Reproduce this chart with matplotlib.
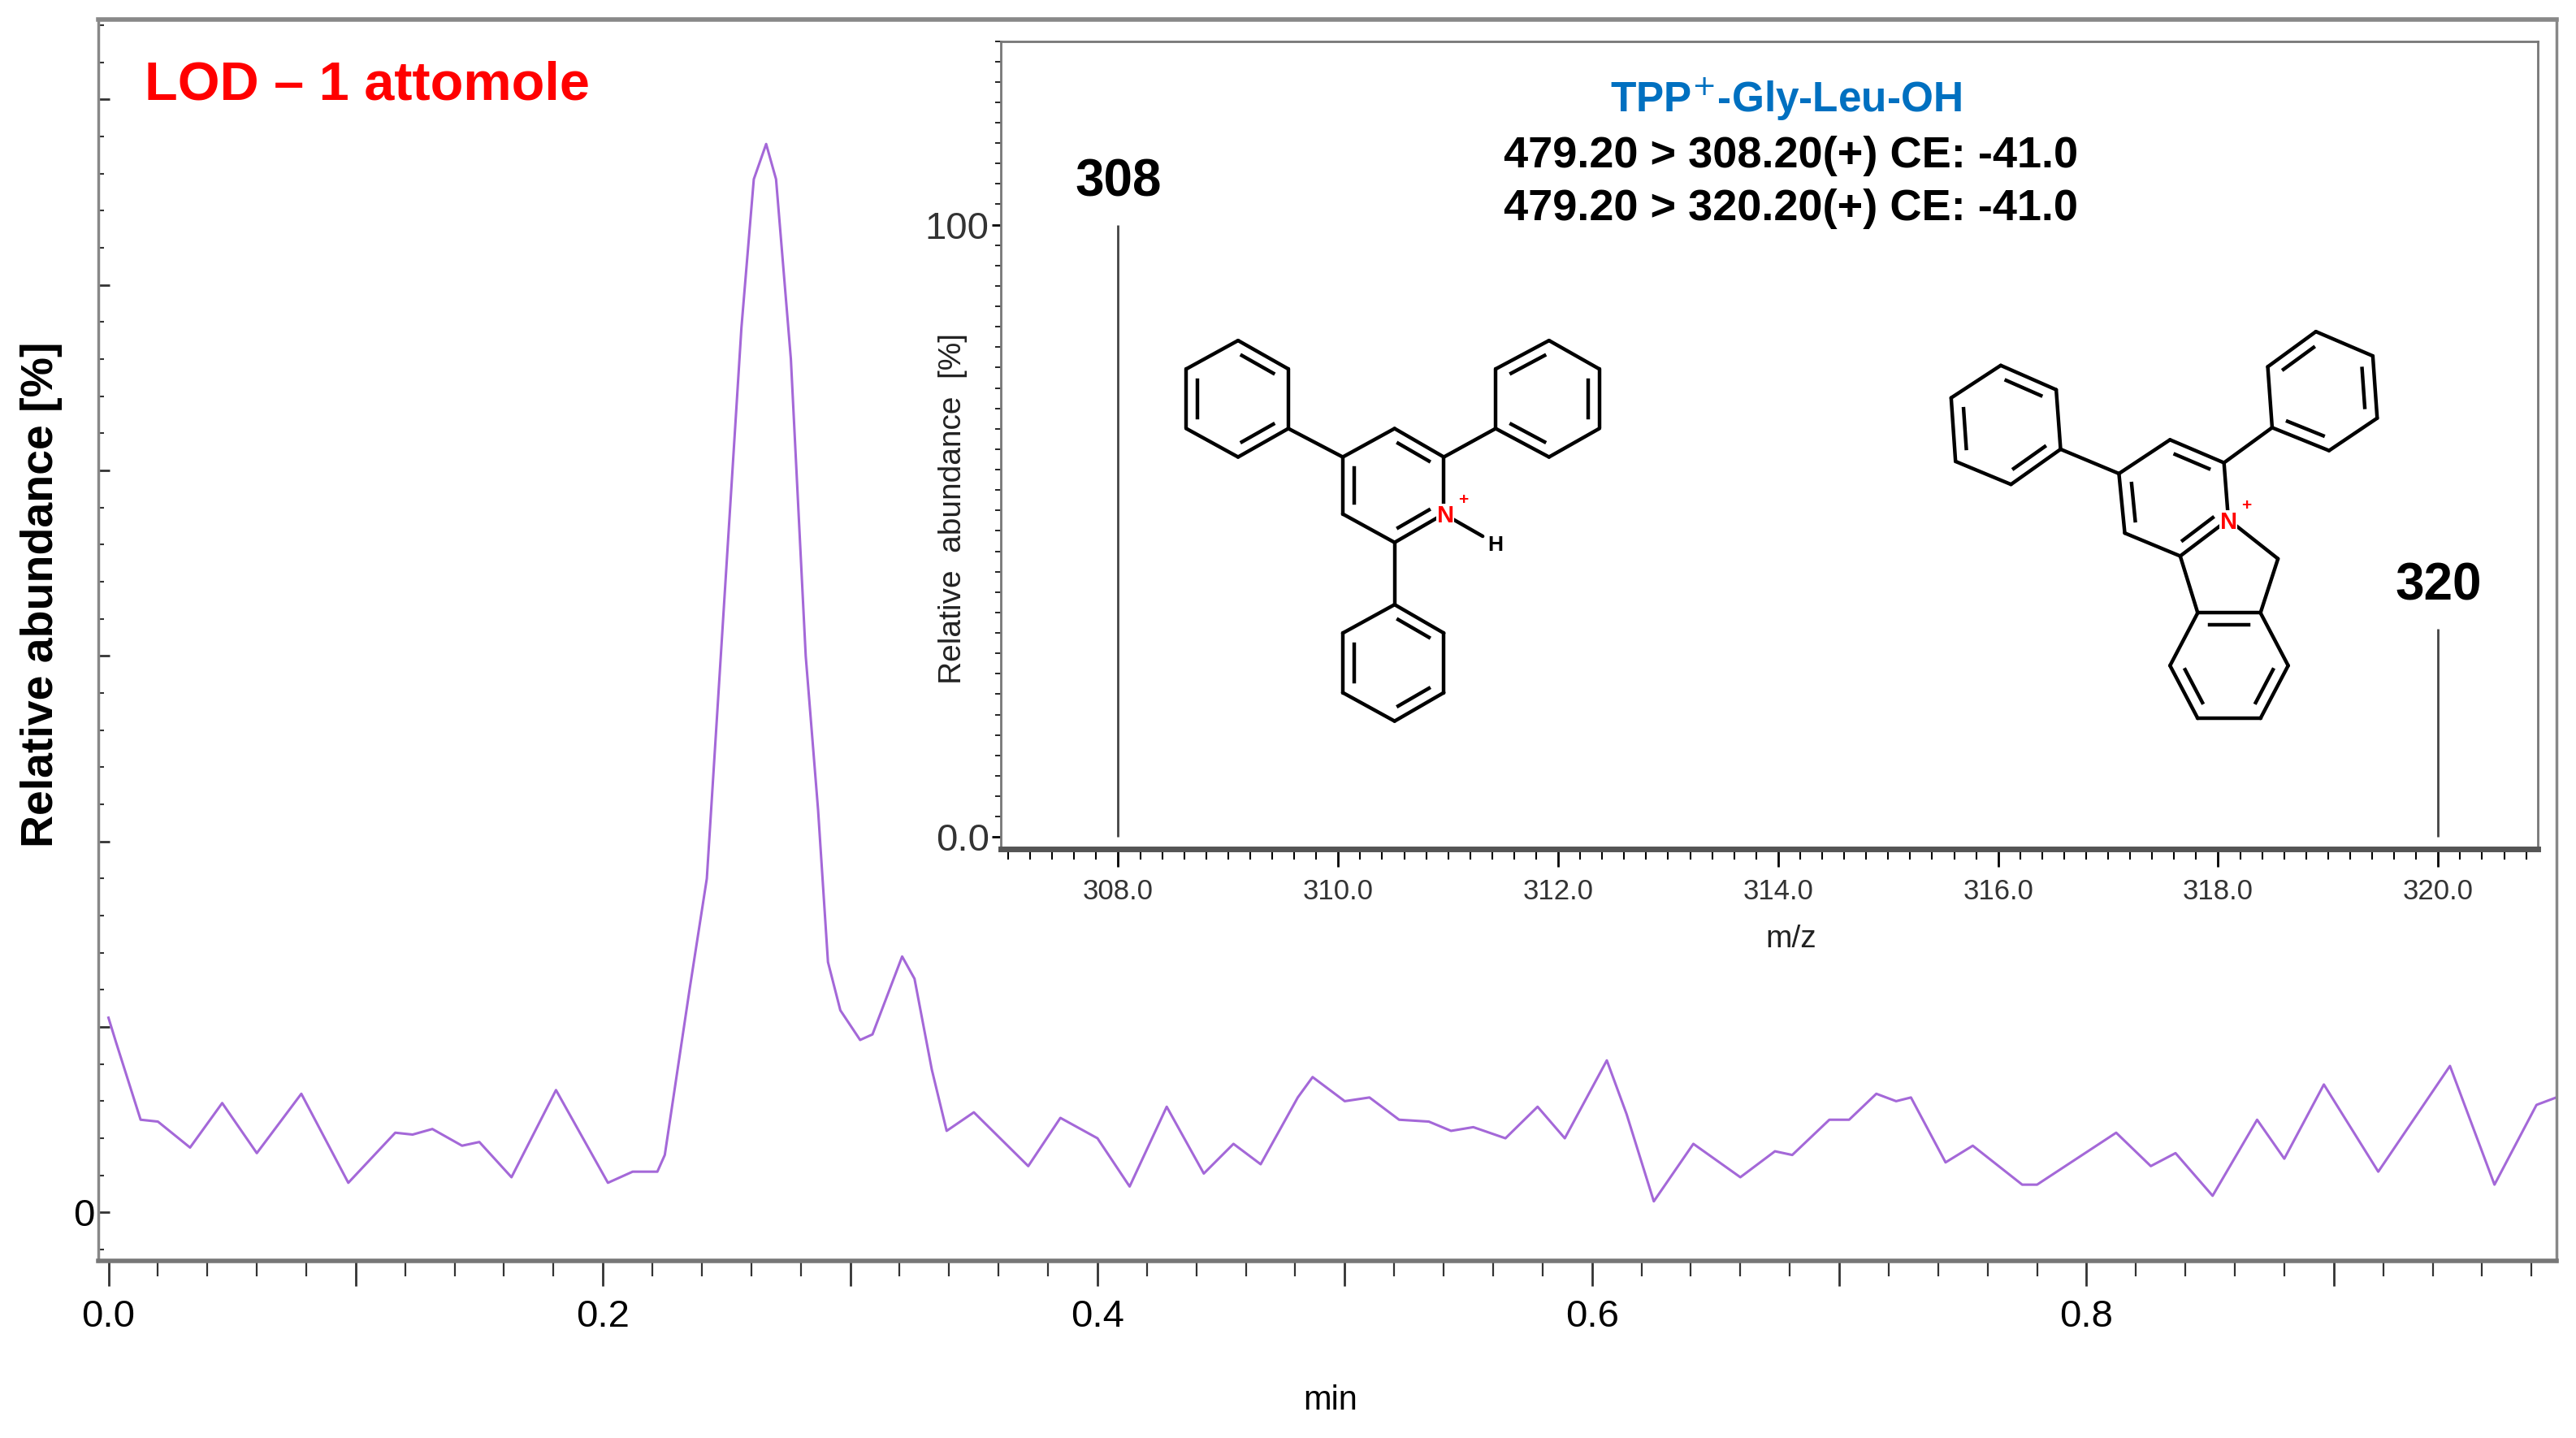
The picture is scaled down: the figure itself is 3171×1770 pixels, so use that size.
import numpy as np
import matplotlib
matplotlib.use("Agg")
import matplotlib.pyplot as plt
from matplotlib.lines import Line2D
from matplotlib.ticker import MultipleLocator, FuncFormatter

plt.rcParams['font.family'] = ['Liberation Sans', 'DejaVu Sans']

# ---- chromatogram data (time in min, relative abundance in arbitrary tick units) ----
time_min = [0.000, 0.003, 0.013, 0.020, 0.033, 0.046, 0.060, 0.078, 0.097, 0.116, 0.123,
            0.131, 0.143, 0.150, 0.163, 0.181, 0.202, 0.212, 0.222, 0.225, 0.235, 0.242,
            0.256, 0.261, 0.266, 0.270, 0.276, 0.282, 0.287, 0.291, 0.296, 0.304, 0.309,
            0.321, 0.326, 0.333, 0.339, 0.350, 0.372, 0.385, 0.400, 0.413, 0.428, 0.443,
            0.455, 0.466, 0.481, 0.487, 0.500, 0.510, 0.522, 0.534, 0.543, 0.552, 0.565,
            0.578, 0.589, 0.606, 0.614, 0.625, 0.641, 0.660, 0.674, 0.681, 0.696, 0.704,
            0.715, 0.723, 0.729, 0.743, 0.754, 0.774, 0.780, 0.812, 0.826, 0.836, 0.851,
            0.869, 0.880, 0.896, 0.918, 0.947, 0.965, 0.982, 0.990]
abundance = [1.05, 0.92, 0.50, 0.49, 0.35, 0.59, 0.32, 0.64, 0.16, 0.43, 0.42,
             0.45, 0.36, 0.38, 0.19, 0.66, 0.16, 0.22, 0.22, 0.31, 1.20, 1.80,
             4.77, 5.57, 5.76, 5.57, 4.60, 3.00, 2.17, 1.35, 1.09, 0.93, 0.96,
             1.38, 1.26, 0.77, 0.44, 0.54, 0.25, 0.51, 0.40, 0.14, 0.57, 0.21,
             0.37, 0.26, 0.62, 0.73, 0.60, 0.62, 0.50, 0.49, 0.44, 0.46, 0.40,
             0.57, 0.40, 0.82, 0.53, 0.06, 0.37, 0.19, 0.33, 0.31, 0.50, 0.50,
             0.64, 0.60, 0.62, 0.27, 0.36, 0.15, 0.15, 0.43, 0.25, 0.32, 0.09,
             0.50, 0.29, 0.69, 0.22, 0.79, 0.15, 0.58, 0.62]
x_tick_labels = ['0.0', '0.2', '0.4', '0.6', '0.8']

# ---- inset spectrum data ----
mz_values = [308.0, 320.0]
mz_intensity = [100.0, 34.0]
mz_labels = ['308', '320']
inset_xticks = [308.0, 310.0, 312.0, 314.0, 316.0, 318.0, 320.0]

W, H = 1568.0, 876.0
fig = plt.figure(figsize=(31.71, 17.70), dpi=100)

def fr(x, y):
    return x / W, 1 - y / H

# ---------- main axes ----------
l, b = fr(60, 768); r, t = fr(1556, 12)
ax = fig.add_axes([l, b, r - l, t - b])
ax.plot(time_min, abundance, color='#a468d8', lw=2.2)
ax.set_xlim(-0.004, 0.99)
ax.set_ylim(-0.26, 6.43)
ax.xaxis.set_major_locator(MultipleLocator(0.1))
ax.xaxis.set_minor_locator(MultipleLocator(0.02))
def xfmt(v, p):
    k = int(round(v * 10))
    return x_tick_labels[k // 2] if k % 2 == 0 and 0 <= k // 2 < len(x_tick_labels) else ''
ax.xaxis.set_major_formatter(FuncFormatter(xfmt))
ax.yaxis.set_major_locator(MultipleLocator(1))
ax.yaxis.set_minor_locator(MultipleLocator(0.2))
ax.yaxis.set_major_formatter(FuncFormatter(lambda v, p: '0' if abs(v) < 1e-6 else ''))
ax.tick_params(axis='x', which='major', direction='out', length=22, width=2, labelsize=34, pad=12, color='#333')
ax.tick_params(axis='x', which='minor', direction='out', length=14, width=1.6, color='#333')
ax.tick_params(axis='y', which='major', direction='in', length=10, width=2, labelsize=34, color='#333')
ax.tick_params(axis='y', which='minor', direction='in', length=5, width=1.5, color='#333')
for s in ax.spines.values():
    s.set_color('#888888'); s.set_linewidth(2.5)
ax.spines['bottom'].set_color('#777777'); ax.spines['bottom'].set_linewidth(4)
ax.spines['top'].set_linewidth(4)
fig.text(*fr(810, 853), 'min', fontsize=30, ha='center', va='center')
fig.text(*fr(25, 362), 'Relative abundance [%]', fontsize=40, fontweight='bold',
         rotation=90, ha='center', va='center')
fig.text(*fr(88, 52), 'LOD – 1 attomole', fontsize=48, fontweight='bold', color='#ff0000',
         ha='left', va='center')

# ---------- inset ----------
l, b = fr(609, 517); r, t = fr(1545, 25)
ia = fig.add_axes([l, b, r - l, t - b])
ia.set_xlim(306.93, 320.91)
ia.set_ylim(-1.9, 130)
ia.vlines(mz_values, 0, mz_intensity, color='#444444', lw=2)
ia.set_xticks(inset_xticks)
ia.set_xticklabels([f'{v:.1f}' for v in inset_xticks])
ia.xaxis.set_minor_locator(MultipleLocator(0.2))
ia.set_yticks([0, 100]); ia.set_yticklabels(['0.0', '100'])
ia.yaxis.set_minor_locator(MultipleLocator(100 / 30))
ia.tick_params(axis='x', which='major', direction='out', length=16, width=2, labelsize=25,
               labelcolor='#333', pad=10)
ia.tick_params(axis='x', which='minor', direction='out', length=9, width=1.5)
ia.tick_params(axis='y', which='major', direction='out', length=8, width=2, labelsize=34,
               labelcolor='#333', pad=2)
ia.tick_params(axis='y', which='minor', direction='out', length=5, width=1.2)
for s in ia.spines.values():
    s.set_color('#777777'); s.set_linewidth(2)
ia.spines['bottom'].set_color('#555555'); ia.spines['bottom'].set_linewidth(5)
for x, yv, lab in zip(mz_values, mz_intensity, mz_labels):
    ia.text(x, yv + 3, lab, fontsize=46, fontweight='bold', ha='center', va='bottom')
fig.text(*fr(580, 310), 'Relative  abundance  [%]', fontsize=28, rotation=90,
         ha='center', va='center', color='#222')
fig.text(*fr(1090, 572), 'm/z', fontsize=28, ha='center', va='center', color='#222')
fig.text(*fr(1087, 60), 'TPP$^{+}$-Gly-Leu-OH', fontsize=37, fontweight='bold',
         color='#0070c0', ha='center', va='center')
fig.text(*fr(1090, 95), '479.20 > 308.20(+) CE: -41.0', fontsize=39, fontweight='bold',
         ha='center', va='center')
fig.text(*fr(1090, 127), '479.20 > 320.20(+) CE: -41.0', fontsize=39, fontweight='bold',
         ha='center', va='center')

# ---------- chemical structures (decoration) ----------
def draw_mol(pts, bonds, doubles, tf, center_of):
    P = {k: tf(*v) for k, v in pts.items()}
    for a, c in bonds:
        (x1, y1), (x2, y2) = P[a], P[c]
        fig.add_artist(Line2D([x1 / W, x2 / W], [1 - y1 / H, 1 - y2 / H], color='k', lw=3.2,
                              solid_capstyle='round'))
    for a, c in doubles:
        (x1, y1), (x2, y2) = P[a], P[c]
        cx, cy = tf(*center_of[(a, c)])
        f = 0.78
        xa, ya = cx + (x1 - cx) * f, cy + (y1 - cy) * f
        xb, yb = cx + (x2 - cx) * f, cy + (y2 - cy) * f
        dx, dy = xb - xa, yb - ya
        xa, ya, xb, yb = xa + dx * 0.1, ya + dy * 0.1, xb - dx * 0.1, yb - dy * 0.1
        fig.add_artist(Line2D([xa / W, xb / W], [1 - ya / H, 1 - yb / H], color='k', lw=3.2))
    return P

def hexring(prefix, verts):
    return {f'{prefix}{i}': v for i, v in enumerate(verts)}

# Left molecule
tfL = lambda x, y: (535 + x / 3.17, 15 + y / 3.17)
pts = {}
pts.update(hexring('p', [(995, 780), (1090, 835), (1090, 945), (995, 1000), (895, 945), (895, 835)]))
pts.update(hexring('a', [(693, 610), (790, 665), (790, 780), (693, 835), (593, 780), (593, 665)]))
pts.update(hexring('b', [(1293, 610), (1390, 665), (1390, 780), (1293, 835), (1190, 780), (1190, 665)]))
pts.update(hexring('c', [(995, 1120), (1090, 1175), (1090, 1290), (995, 1345), (895, 1290), (895, 1175)]))
pts['H'] = (1165, 988)
bonds = []
for pre in 'pabc':
    for i in range(6):
        bonds.append((f'{pre}{i}', f'{pre}{(i + 1) % 6}'))
bonds += [('p5', 'a2'), ('p1', 'b4'), ('p3', 'c0'), ('p2', 'H')]
centers = {'p': (993, 890), 'a': (692, 722), 'b': (1290, 722), 'c': (993, 1232)}
doubles = [('p0', 'p1'), ('p4', 'p5'), ('p2', 'p3'), ('a0', 'a1'), ('a2', 'a3'), ('a4', 'a5'),
           ('b5', 'b0'), ('b1', 'b2'), ('b3', 'b4'), ('c0', 'c1'), ('c2', 'c3'), ('c4', 'c5')]
cmap = {d: centers[d[0][0]] for d in doubles}
draw_mol(pts, bonds, doubles, tfL, cmap)
fig.text(*fr(*tfL(1093, 948)), 'N', color='#ff0000', fontsize=21, fontweight='bold', ha='center',
         va='center', bbox=dict(facecolor='white', edgecolor='none', pad=0.5))
fig.text(*fr(*tfL(1128, 918)), '+', color='#ff0000', fontsize=15, fontweight='bold', ha='center', va='center')
fig.text(*fr(*tfL(1190, 1005)), 'H', color='k', fontsize=19, fontweight='bold', ha='center',
         va='center', bbox=dict(facecolor='white', edgecolor='none', pad=0.3))

# Right molecule
tfR = lambda x, y: (1177 + x / 5.63, 188 + y / 6.07)
pts = {}
pts.update(hexring('a', [(230, 210), (420, 300), (435, 520), (265, 650), (75, 565), (60, 330)]))
pts.update(hexring('b', [(1310, 85), (1505, 175), (1520, 405), (1355, 525), (1160, 440), (1145, 215)]))
pts.update(hexring('p', [(635, 610), (810, 485), (995, 570), (1010, 780), (845, 915), (655, 830)]))
pts.update(hexring('c', [(905, 1125), (1120, 1125), (1215, 1320), (1120, 1515), (905, 1515), (810, 1320)]))
pts['m'] = (1180, 925)
bonds = []
for pre in 'abpc':
    for i in range(6):
        bonds.append((f'{pre}{i}', f'{pre}{(i + 1) % 6}'))
bonds += [('a2', 'p0'), ('p2', 'b4'), ('p3', 'm'), ('m', 'c1'), ('c0', 'p4')]
centers = {'a': (248, 430), 'b': (1332, 305), 'p': (825, 700), 'c': (1012, 1320)}
doubles = [('a0', 'a1'), ('a2', 'a3'), ('a4', 'a5'), ('b5', 'b0'), ('b1', 'b2'), ('b3', 'b4'),
           ('p1', 'p2'), ('p3', 'p4'), ('p5', 'p0'), ('c0', 'c1'), ('c2', 'c3'), ('c4', 'c5')]
cmap = {d: centers[d[0][0]] for d in doubles}
draw_mol(pts, bonds, doubles, tfR, cmap)
fig.text(*fr(*tfR(1010, 790)), 'N', color='#ff0000', fontsize=21, fontweight='bold', ha='center',
         va='center', bbox=dict(facecolor='white', edgecolor='none', pad=0.5))
fig.text(*fr(*tfR(1072, 730)), '+', color='#ff0000', fontsize=15, fontweight='bold', ha='center', va='center')

fig.savefig('out.png', dpi=100, facecolor='white')
